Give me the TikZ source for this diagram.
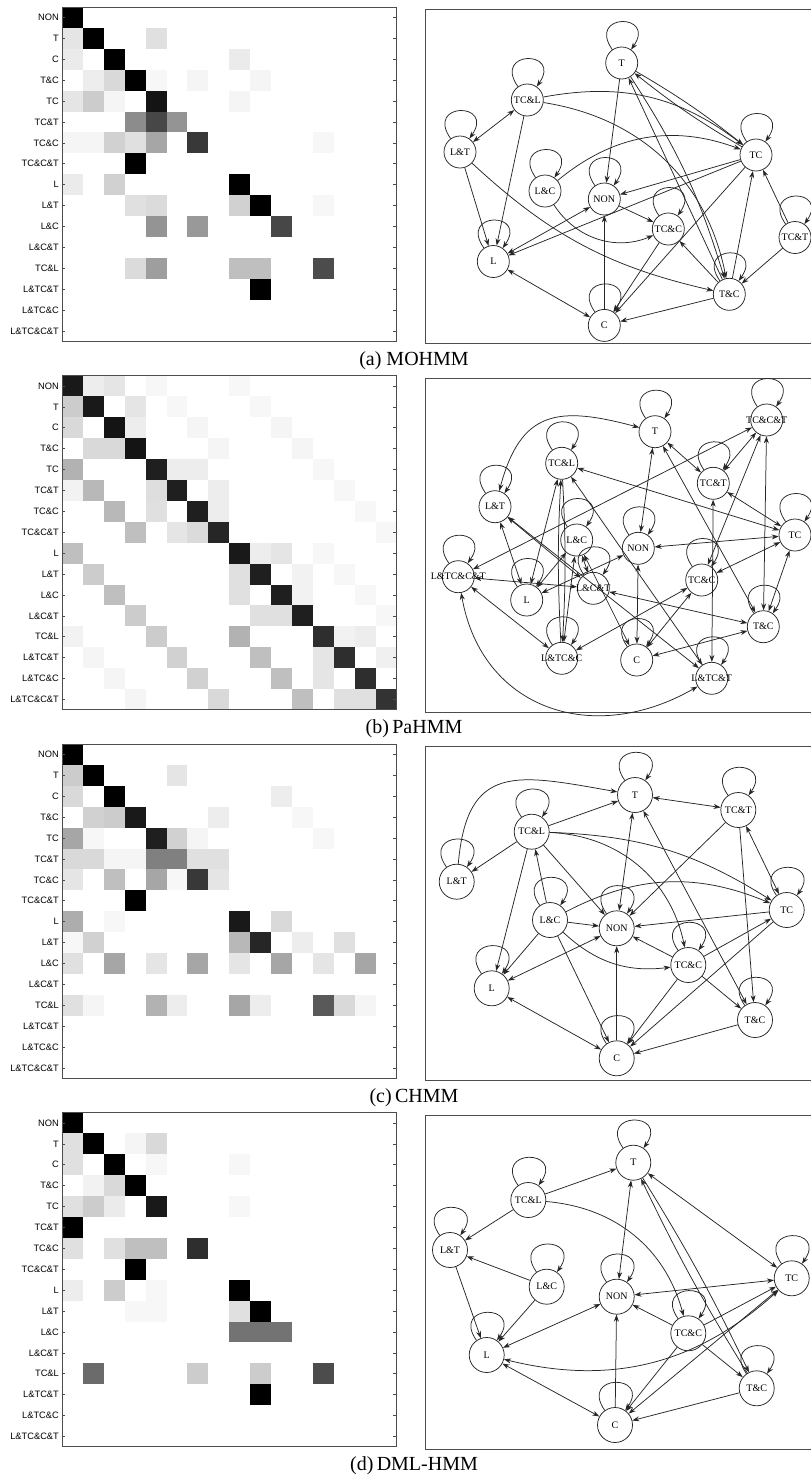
\documentclass[tikz,border=0pt]{standalone}
\usepackage{fontspec}
\setmainfont{Liberation Serif}
\setsansfont{Liberation Sans}
\usetikzlibrary{arrows.meta}

\begin{document}
\begin{tikzpicture}[x=1pt, y=1pt,
    >={Stealth[length=7pt, width=5pt]},
    frame/.style={draw=black!70, line width=0.9pt},
    tick/.style={draw=black!70, line width=0.6pt},
    hstate/.style={circle, draw=black!85, line width=0.75pt, minimum size=32pt, inner sep=0pt, font=\fontsize{10}{11}\selectfont},
    bigstate/.style={hstate, minimum size=35pt},
    link/.style={->, draw=black!85, line width=0.75pt},
    dlink/.style={<->, draw=black!85, line width=0.75pt},
    rowlab/.style={anchor=east, inner sep=0pt, font=\sffamily\fontsize{9.3}{10}\selectfont},
    caption/.style={font=\fontsize{20}{24}\selectfont}]

  \useasboundingbox (0,0) rectangle (811,-1476);

  % Matrix cells (a) MOHMM
  \begin{scope}[shift={(62pt,-7pt)}, x=20.9pt, y=-20.9pt]
    \foreach \r/\c/\v in {0/0/100, 1/0/10, 1/1/100, 1/4/12, 2/0/8, 2/2/100, 2/8/8,
        3/1/7, 3/2/15, 3/3/100, 3/4/3, 3/6/4, 3/9/4, 4/0/10, 4/1/20, 4/2/4, 4/4/92, 4/8/4,
        5/3/45, 5/4/72, 5/5/42, 6/0/4, 6/1/4, 6/2/18, 6/3/12, 6/4/35, 6/6/78, 6/12/3,
        7/3/100, 8/0/8, 8/2/18, 8/8/100, 9/3/12, 9/4/14, 9/8/18, 9/9/100, 9/12/3,
        10/4/42, 10/6/40, 10/10/72, 12/3/14, 12/4/38, 12/8/25, 12/9/25, 12/12/70, 13/9/100}
      \fill[black!\v] (\c,\r) rectangle ++(1,1);
  \end{scope}

  % Matrix cells (b) PaHMM
  \begin{scope}[shift={(62pt,-375.5pt)}, x=20.9pt, y=-20.9pt]
    \foreach \r/\c/\v in {0/0/90, 0/1/7, 0/2/10, 0/4/3, 0/8/3, 1/0/20, 1/1/90, 1/3/10, 1/5/3, 1/9/3,
        2/0/15, 2/2/92, 2/3/7, 2/6/4, 2/10/4, 3/1/15, 3/2/15, 3/3/92, 3/7/4, 3/11/4,
        4/0/30, 4/4/88, 4/5/7, 4/6/7, 4/12/3, 5/0/5, 5/1/28, 5/4/13, 5/5/88, 5/7/7, 5/13/3,
        6/2/28, 6/4/12, 6/6/88, 6/7/7, 6/14/3, 7/3/25, 7/5/10, 7/6/14, 7/7/85, 7/15/3,
        8/0/25, 8/8/90, 8/9/7, 8/10/10, 8/12/3, 9/1/20, 9/8/12, 9/9/88, 9/11/5, 9/13/3,
        10/2/25, 10/8/12, 10/10/88, 10/11/5, 10/14/3, 11/3/20, 11/9/12, 11/10/12, 11/11/88, 11/15/3,
        12/0/5, 12/4/20, 12/8/30, 12/12/82, 12/13/5, 12/14/7, 13/1/4, 13/5/18, 13/9/25, 13/12/10, 13/13/82, 13/15/6,
        14/2/4, 14/6/18, 14/10/25, 14/12/10, 14/14/82, 15/3/4, 15/7/15, 15/11/25, 15/13/12, 15/14/12, 15/15/80}
      \fill[black!\v] (\c,\r) rectangle ++(1,1);
  \end{scope}

  % Matrix cells (c) CHMM
  \begin{scope}[shift={(62pt,-744pt)}, x=20.9pt, y=-20.9pt]
    \foreach \r/\c/\v in {0/0/100, 1/0/20, 1/1/100, 1/5/10, 2/0/15, 2/2/100, 2/10/7,
        3/1/18, 3/2/20, 3/3/90, 3/7/7, 3/11/3, 4/0/35, 4/1/3, 4/4/88, 4/5/18, 4/6/4, 4/12/3,
        5/0/15, 5/1/15, 5/2/4, 5/3/4, 5/4/50, 5/5/50, 5/6/12, 5/7/12,
        6/0/10, 6/2/25, 6/4/35, 6/5/3, 6/6/78, 6/7/10, 7/3/100, 8/0/32, 8/2/3, 8/8/90, 8/10/15,
        9/0/3, 9/1/18, 9/8/28, 9/9/85, 9/11/7, 9/13/12,
        10/0/12, 10/2/35, 10/4/10, 10/6/35, 10/8/10, 10/10/35, 10/12/10, 10/14/35,
        12/0/12, 12/1/4, 12/4/30, 12/5/7, 12/8/35, 12/9/7, 12/12/65, 12/13/15, 12/14/4}
      \fill[black!\v] (\c,\r) rectangle ++(1,1);
  \end{scope}

  % Matrix cells (d) DML-HMM
  \begin{scope}[shift={(62pt,-1112.5pt)}, x=20.9pt, y=-20.9pt]
    \foreach \r/\c/\v in {0/0/100, 1/0/12, 1/1/100, 1/3/4, 1/4/15, 2/0/12, 2/2/100, 2/4/3, 2/8/3,
        3/1/5, 3/2/15, 3/3/100, 4/0/12, 4/1/20, 4/2/8, 4/4/90, 4/8/3, 5/0/100,
        6/0/12, 6/2/12, 6/3/25, 6/4/25, 6/6/82, 7/3/100, 8/0/7, 8/2/20, 8/4/3, 8/8/100,
        9/3/3, 9/4/3, 9/8/12, 9/9/100, 10/8/55, 10/9/55, 10/10/55,
        12/1/58, 12/6/20, 12/9/20, 12/12/70, 13/9/100}
      \fill[black!\v] (\c,\r) rectangle ++(1,1);
  \end{scope}

  % Matrix frames, ticks and row labels
  \foreach \p/\ytop in {a/7, b/375.5, c/744, d/1112.5} {
    \begin{scope}[shift={(62pt,-\ytop pt)}, x=20.9pt, y=-20.9pt]
      \draw[frame] (0,0) rectangle (16,16);
      \foreach \i/\lab in {0/NON, 1/T, 2/C, 3/T\&C, 4/TC, 5/TC\&T, 6/TC\&C, 7/TC\&C\&T,
          8/L, 9/L\&T, 10/L\&C, 11/L\&C\&T, 12/TC\&L, 13/L\&TC\&T, 14/L\&TC\&C, 15/L\&TC\&C\&T} {
        \node[rowlab] (\p-row\i) at (-0.14,\i+0.5) {\lab};
        \draw[tick] (0,\i+0.5) -- ++(0.15,0);
        \draw[tick] (16,\i+0.5) -- ++(-0.15,0);
      }
    \end{scope}
  }

  % Graph frames
  \draw[frame] (425,-9) rectangle (830,-343.5);
  \draw[frame] (425,-378) rectangle (830,-712);
  \draw[frame] (425,-746.5) rectangle (830,-1080.5);
  \draw[frame] (425,-1115) rectangle (830,-1449);

  % Captions
  \node[caption] (capa) at (414,-360.5) {(a) MOHMM};
  \node[caption] (capb) at (414,-729) {(b)\,PaHMM};
  \node[caption] (capc) at (414,-1097.5) {(c)\,CHMM};
  \node[caption] (capd) at (414,-1466) {(d)\,DML-HMM};

  % Graph (a)
  \node[hstate] (aT) at (621.7,-63) {T};
  \node[hstate] (aTCL) at (527.3,-100) {TC\&L};
  \node[hstate] (aLT) at (460,-152) {L\&T};
  \node[hstate] (aLC) at (545,-191) {L\&C};
  \node[hstate] (aNON) at (604.3,-199) {NON};
  \node[hstate] (aTC) at (756,-155) {TC};
  \node[hstate] (aL) at (493.3,-261.5) {L};
  \node[hstate] (aTCC) at (668.3,-229) {TC\&C};
  \node[hstate] (aTCT) at (795,-237.5) {TC\&T};
  \node[hstate] (aTaC) at (729.3,-294.3) {T\&C};
  \node[hstate] (aC) at (604.3,-325.4) {C};

  \draw[link] (aT) -- (aNON);
  \draw[link] (aT) to[bend left=4] (aTC);
  \draw[link] (aTC) to[bend left=4] (aT);
  \draw[link] (aTaC) -- (aT);
  \draw[link] (aT) to[bend left=8] (aTaC);
  \draw[link] (aTCL) to[bend left=24] (aTC);
  \draw[link] (aTCL) to[bend left=35] (aTaC);
  \draw[dlink] (aTCL) -- (aLT);
  \draw[link] (aTCL) -- (aL);
  \draw[link] (aLT) -- (aL);
  \draw[link] (aLT) to[bend right=15] (aTaC);
  \draw[link] (aLC) to[bend left=30] (aTC);
  \draw[link] (aLC) to[bend right=40] (aTCC);
  \draw[link] (aTC) -- (aNON);
  \draw[link] (aTC) -- (aL);
  \draw[dlink] (aNON) -- (aL);
  \draw[link] (aNON) -- (aTCC);
  \draw[link] (aC) -- (aNON);
  \draw[dlink] (aL) -- (aC);
  \draw[link] (aTCC) -- (aC);
  \draw[link] (aTaC) -- (aC);
  \draw[link] (aTC) -- (aC);
  \draw[link] (aTaC) -- (aTCC);
  \draw[link] (aTaC) -- (aTC);
  \draw[link] (aTCT) -- (aTaC);
  \draw[link] (aTCT) -- (aTC);

  % Graph (b)
  \node[hstate] (bT) at (655,-431.7) {T};
  \node[hstate] (bTCCT) at (766.7,-420) {\makebox[0pt]{TC\&C\&T}};
  \node[hstate] (bTCL) at (561.7,-463.3) {TC\&L};
  \node[hstate] (bTCT) at (713.3,-483.3) {TC\&T};
  \node[hstate] (bLT) at (495,-506.7) {L\&T};
  \node[hstate] (bTC) at (795,-535) {TC};
  \node[hstate] (bLC) at (576.7,-540) {L\&C};
  \node[hstate] (bNON) at (638.3,-548.3) {NON};
  \node[hstate] (bLTCCT) at (458.3,-576.7) {\makebox[0pt]{L\&TC\&C\&T}};
  \node[hstate] (bL) at (526.7,-600) {L};
  \node[hstate] (bLCT) at (593.3,-588.3) {\makebox[0pt]{L\&C\&T}};
  \node[hstate] (bTCC) at (701.7,-580) {TC\&C};
  \node[hstate] (bTaC) at (763.3,-626.7) {T\&C};
  \node[hstate] (bLTCC) at (561.7,-658.3) {\makebox[0pt]{L\&TC\&C}};
  \node[hstate] (bC) at (636.7,-660) {C};
  \node[hstate] (bLTCT) at (711.7,-678.3) {\makebox[0pt]{L\&TC\&T}};

  \draw[dlink] (bT) to[out=165, in=75, looseness=1.4] (bLT);
  \draw[dlink] (bLTCCT) to[out=-80, in=-150, looseness=1.2] (bLTCT);
  \draw[dlink] (bTCCT) -- (bLTCCT);
  \draw[dlink] (bTCCT) -- (bTCT);
  \draw[dlink] (bTCCT) -- (bTaC);
  \draw[dlink] (bTCCT) -- (bTCC);
  \draw[dlink] (bT) -- (bTCT);
  \draw[dlink] (bT) -- (bNON);
  \draw[dlink] (bT) -- (bTaC);
  \draw[dlink] (bTCL) -- (bTC);
  \draw[dlink] (bTCL) -- (bL);
  \draw[link] (bTCL) to[bend left=3] (bLTCC);
  \draw[link] (bLTCC) to[bend left=3] (bTCL);
  \draw[dlink] (bTCL) -- (bLTCT);
  \draw[dlink] (bTCT) -- (bTC);
  \draw[dlink] (bTCT) -- (bLTCT);
  \draw[dlink] (bLT) -- (bL);
  \draw[dlink] (bLT) -- (bLCT);
  \draw[dlink] (bLT) -- (bLTCT);
  \draw[dlink] (bTC) -- (bNON);
  \draw[dlink] (bTC) -- (bTCC);
  \draw[dlink] (bTC) -- (bTaC);
  \draw[dlink] (bLC) -- (bL);
  \draw[dlink] (bLC) -- (bLTCC);
  \draw[dlink] (bLC) -- (bLCT);
  \draw[dlink] (bLC) -- (bC);
  \draw[dlink] (bNON) -- (bL);
  \draw[dlink] (bNON) -- (bC);
  \draw[dlink] (bLTCCT) -- (bLCT);
  \draw[dlink] (bLTCCT) -- (bLTCC);
  \draw[dlink] (bLCT) -- (bTaC);
  \draw[dlink] (bTCC) -- (bLTCC);
  \draw[dlink] (bTCC) -- (bC);
  \draw[dlink] (bC) -- (bTaC);

  % Graph (c)
  \node[bigstate] (cT) at (635,-795) {T};
  \node[bigstate] (cTCT) at (738.3,-810) {TC\&T};
  \node[bigstate] (cTCL) at (531.7,-831.7) {TC\&L};
  \node[bigstate] (cLT) at (456.7,-881.7) {L\&T};
  \node[bigstate] (cTC) at (786.7,-910) {TC};
  \node[bigstate] (cLC) at (550,-920) {L\&C};
  \node[bigstate] (cNON) at (616.7,-928.3) {NON};
  \node[bigstate] (cTCC) at (688.3,-965) {TC\&C};
  \node[bigstate] (cL) at (491.7,-988.3) {L};
  \node[bigstate] (cTaC) at (755,-1020) {T\&C};
  \node[bigstate] (cC) at (616.7,-1058.3) {C};

  \draw[link] (cLT) to[out=85, in=170, looseness=1.5] (cT);
  \draw[link] (cTCL) -- (cT);
  \draw[dlink] (cT) -- (cTCT);
  \draw[link] (cTCL) -- (cLT);
  \draw[link] (cTCL) -- (cL);
  \draw[link] (cTCL) -- (cNON);
  \draw[link] (cTCL) to[bend left=15] (cTC);
  \draw[link] (cTCL) to[bend left=38] (cTCC);
  \draw[link] (cLC) -- (cTCL);
  \draw[dlink] (cT) -- (cNON);
  \draw[link] (cTCT) -- (cNON);
  \draw[link] (cTCT) -- (cTaC);
  \draw[dlink] (cTCT) -- (cTC);
  \draw[link] (cLC) to[bend left=25] (cTC);
  \draw[link] (cTC) -- (cNON);
  \draw[link] (cLC) -- (cNON);
  \draw[link] (cLC) -- (cL);
  \draw[link] (cLC) -- (cC);
  \draw[link] (cLC) to[bend right=25] (cTCC);
  \draw[dlink] (cNON) -- (cL);
  \draw[link] (cTCC) -- (cNON);
  \draw[link] (cC) -- (cNON);
  \draw[dlink] (cL) -- (cC);
  \draw[link] (cTCC) -- (cTC);
  \draw[link] (cTCC) -- (cC);
  \draw[link] (cTCC) -- (cTaC);
  \draw[link] (cTaC) -- (cC);
  \draw[link] (cTC) -- (cC);
  \draw[dlink] (cT) -- (cTaC);

  % Graph (d)
  \node[bigstate] (dT) at (633.3,-1162.7) {T};
  \node[bigstate] (dTCL) at (528.3,-1200) {TC\&L};
  \node[bigstate] (dLT) at (450,-1250) {L\&T};
  \node[bigstate] (dLC) at (546.7,-1286.7) {L\&C};
  \node[bigstate] (dNON) at (616.7,-1296.7) {NON};
  \node[bigstate] (dTC) at (791.7,-1278.3) {TC};
  \node[bigstate] (dTCC) at (688.3,-1333.3) {TC\&C};
  \node[bigstate] (dL) at (486.7,-1355) {L};
  \node[bigstate] (dTaC) at (756.7,-1388.3) {T\&C};
  \node[bigstate] (dC) at (615,-1425) {C};

  \draw[link] (dTCL) -- (dT);
  \draw[link] (dTCL) -- (dLT);
  \draw[link] (dTCL) to[bend left=35] (dTCC);
  \draw[link] (dLC) -- (dLT);
  \draw[link] (dLT) -- (dL);
  \draw[link] (dLC) -- (dL);
  \draw[dlink] (dT) -- (dNON);
  \draw[dlink] (dT) -- (dTC);
  \draw[link] (dT) to[bend left=3] (dTaC);
  \draw[link] (dTaC) to[bend left=3] (dT);
  \draw[dlink] (dTC) -- (dNON);
  \draw[dlink] (dNON) -- (dL);
  \draw[link] (dTCC) -- (dNON);
  \draw[link] (dTCC) -- (dTC);
  \draw[link] (dTCC) -- (dC);
  \draw[link] (dTCC) -- (dTaC);
  \draw[link] (dC) -- (dNON);
  \draw[dlink] (dL) -- (dC);
  \draw[dlink] (dTC) to[bend left=28] (dL);
  \draw[dlink] (dTC) -- (dC);
  \draw[link] (dTaC) -- (dC);

  % Self-loops
  \foreach \n in {aT, aTCL, aLT, aLC, aNON, aTC, aL, aTCC, aTCT, aTaC, aC,
      bT, bTCCT, bTCL, bTCT, bLT, bTC, bLC, bNON, bLTCCT, bL, bLCT, bTCC, bTaC, bLTCC, bC, bLTCT,
      cT, cTCT, cTCL, cLT, cTC, cLC, cNON, cTCC, cL, cTaC, cC,
      dT, dTCL, dLT, dLC, dNON, dTC, dTCC, dL, dTaC, dC}
    \draw[link] (\n.125) .. controls +(125:45) and +(55:45) .. (\n.55);
\end{tikzpicture}
\end{document}
